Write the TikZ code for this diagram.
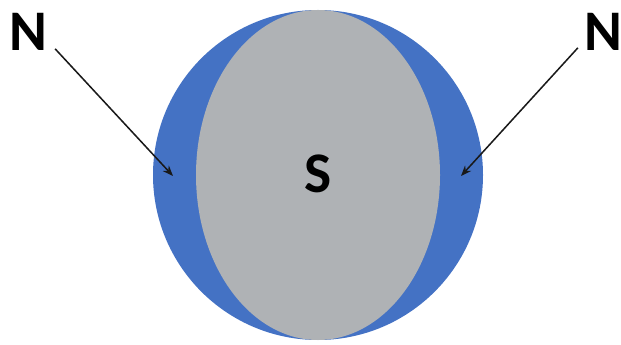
\documentclass[tikz,border=0pt]{standalone}
\usepackage{fontspec}
\setmainfont{Carlito}
\usepackage{xcolor}
\usetikzlibrary{arrows.meta, shapes.geometric}

\definecolor{ballblue}{RGB}{68,114,196}
\definecolor{ballgray}{RGB}{175,178,181}

\begin{document}
\begin{tikzpicture}[
  x=0.03cm, y=-0.03cm,
  lbl/.style={font=\fontsize{49}{50}\selectfont\bfseries, inner sep=0pt},
  arr/.style={-{Stealth[length=9pt,width=7pt]}, line width=1.3pt, black!90},
]
\useasboundingbox (0,0) rectangle (621,345);

%% ---- Sphere ----
\node[circle, fill=ballblue, minimum size=330*0.03cm, inner sep=0pt] (ball) at (318,175) {};
\node[ellipse, fill=ballgray, minimum width=244*0.03cm, minimum height=330*0.03cm,
      inner sep=0pt] (core) at (318,175) {};
\node[lbl] (south) at (318,174) {S};

%% ---- Poles ----
\node[lbl] (nleft)  at (28,32)  {N};
\node[lbl] (nright) at (603,32) {N};
\coordinate (tipl) at (173,176);
\coordinate (tipr) at (461,176);

%% ---- Arrows ----
\draw[arr] ([shift={(8,-2)}]nleft.south east) -- (tipl);
\draw[arr] ([shift={(-6,-3)}]nright.south west) -- (tipr);

\end{tikzpicture}
\end{document}
